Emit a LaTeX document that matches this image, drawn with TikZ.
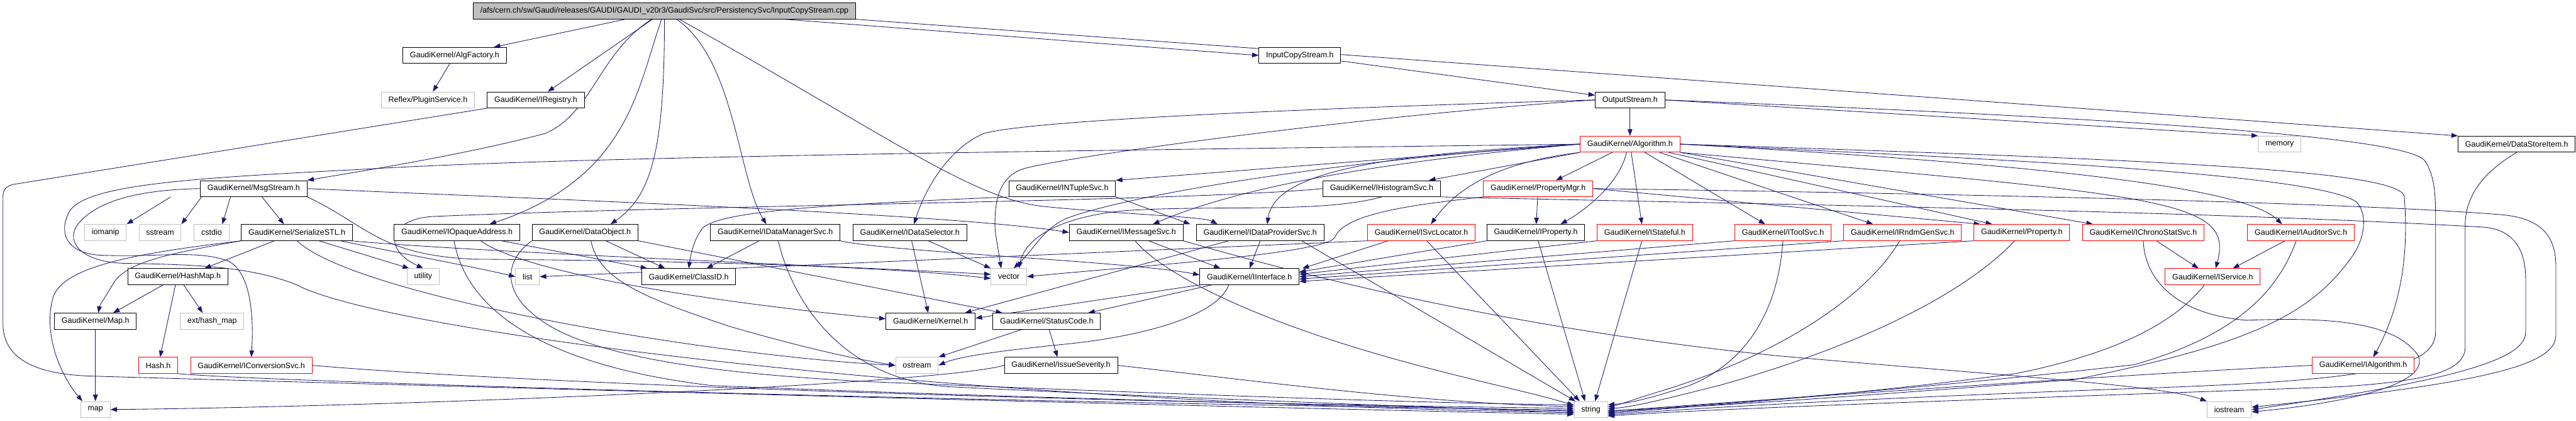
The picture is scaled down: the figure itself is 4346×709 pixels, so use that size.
\documentclass[tikz,border=0pt]{standalone}
\usepackage{fontspec}
\setmainfont{Liberation Sans}
\usetikzlibrary{arrows.meta}
\definecolor{edgec}{HTML}{191970}
\definecolor{graybd}{HTML}{BFBFBF}
\newcommand{\gvfont}{\fontsize{13.24}{15}\selectfont}
\pgfdeclarelayer{bg}
\pgfsetlayers{bg,main}
\tikzset{
  nbase/.style={rectangle, minimum height=27pt, inner xsep=12pt, inner ysep=0pt, line width=1pt, font=\gvfont, text=black, fill=white},
  nb/.style={nbase, draw=black},
  ng/.style={nbase, draw=graybd},
  nr/.style={nbase, draw=red},
  ntop/.style={nbase, draw=black, fill=graybd},
  edg/.style={draw=edgec, line width=0.9pt, -{Triangle[length=11pt,width=8pt]}},
}
\begin{document}
\begin{tikzpicture}[x=1pt,y=-1pt]
\useasboundingbox (0,0) rectangle (4346,709);
% row 0-4
\node[ntop] (top) at (1121,18.5) {/afs/cern.ch/sw/Gaudi/releases/GAUDI/GAUDI\_v20r3/GaudiSvc/src/PersistencySvc/InputCopyStream.cpp};
\node[nb] (algf) at (767,93.5) {GaudiKernel/AlgFactory.h};
\node[nb] (icsh) at (2193,93.5) {InputCopyStream.h};
\node[ng] (reflex) at (722,168.5) {Reflex/PluginService.h};
\node[nb] (ireg) at (904,168.5) {GaudiKernel/IRegistry.h};
\node[nb] (outs) at (2750,168.5) {OutputStream.h};
\node[nr] (alg) at (2750,243) {GaudiKernel/Algorithm.h};
\node[ng] (memory) at (3846,243) {memory};
\node[nb] (dsi) at (4246,243) {GaudiKernel/DataStoreItem.h};
\node[nb] (msg) at (428,318) {GaudiKernel/MsgStream.h};
\node[nb] (ntup) at (1792,318) {GaudiKernel/INTupleSvc.h};
\node[nb] (ihist) at (2331,318) {GaudiKernel/IHistogramSvc.h};
\node[nr] (pmgr) at (2595,318) {GaudiKernel/PropertyMgr.h};
% row 5
\node[ng] (iomanip) at (178,392) {iomanip};
\node[ng] (sstream) at (270,392) {sstream};
\node[ng] (cstdio) at (357,392) {cstdio};
\node[nb] (ser) at (501,392) {GaudiKernel/SerializeSTL.h};
\node[nb] (iopa) at (771,392) {GaudiKernel/IOpaqueAddress.h};
\node[nb] (dobj) at (987,392) {GaudiKernel/DataObject.h};
\node[nb] (idms) at (1308,392) {GaudiKernel/IDataManagerSvc.h};
\node[nb] (idsel) at (1535,392) {GaudiKernel/IDataSelector.h};
\node[nb] (imsg) at (1900,392) {GaudiKernel/IMessageSvc.h};
\node[nb] (idps) at (2126,392) {GaudiKernel/IDataProviderSvc.h};
\node[nr] (isvcl) at (2398,392) {GaudiKernel/ISvcLocator.h};
\node[nb] (iprop) at (2591,392) {GaudiKernel/IProperty.h};
\node[nr] (istate) at (2775,392) {GaudiKernel/IStateful.h};
\node[nr] (itool) at (3008,392) {GaudiKernel/IToolSvc.h};
\node[nr] (irndm) at (3210,392) {GaudiKernel/IRndmGenSvc.h};
\node[nr] (prop) at (3411,392) {GaudiKernel/Property.h};
\node[nr] (ichrono) at (3616,392) {GaudiKernel/IChronoStatSvc.h};
\node[nr] (iaud) at (3882,392) {GaudiKernel/IAuditorSvc.h};
% row 6
\node[nb] (hashmap) at (300,466.5) {GaudiKernel/HashMap.h};
\node[ng] (utility) at (714,466.5) {utility};
\node[ng] (list) at (890,466.5) {list};
\node[nb] (classid) at (1162,466.5) {GaudiKernel/ClassID.h};
\node[ng] (vector) at (1702,466.5) {vector};
\node[nb] (iint) at (2108,466.5) {GaudiKernel/IInterface.h};
\node[nr] (isvc) at (3733,466.5) {GaudiKernel/IService.h};
% row 7
\node[nb] (mapH) at (161,541.5) {GaudiKernel/Map.h};
\node[ng] (exthm) at (358,541.5) {ext/hash\_map};
\node[nb] (kernel) at (1570,541.5) {GaudiKernel/Kernel.h};
\node[nb] (sc) at (1766,541.5) {GaudiKernel/StatusCode.h};
% row 8
\node[nr] (hash) at (267,616) {Hash.h};
\node[nr] (iconv) at (424,616) {GaudiKernel/IConversionSvc.h};
\node[ng] (ostream) at (1547,616) {ostream};
\node[nb] (issue) at (1790,616) {GaudiKernel/IssueSeverity.h};
\node[nr] (ialg) at (3987,616) {GaudiKernel/IAlgorithm.h};
% row 9
\node[ng] (map) at (161,690.5) {map};
\node[ng] (string) at (2684,690.5) {string};
\node[ng] (iostream) at (3761,690.5) {iostream};

\begin{pgfonlayer}{bg}
\fill[white] (0,0) rectangle (4346,709);
% top
\draw[edg] (top) -- (algf);
\draw[edg] (top) -- (ireg);
\draw[edg] (top) .. controls (1010,90) and (1000,190) .. (920,225) .. controls (780,262) and (600,290) .. (msg.north east);
\draw[edg] (top) .. controls (1075,150) and (1060,300) .. ([xshift=55pt]iopa.north);
\draw[edg] (top.south) .. controls (1121,250) and (1100,330) .. ([xshift=43pt]dobj.north);
\draw[edg] (top) .. controls (1240,100) and (1245,300) .. ([xshift=-15pt]idms.north);
\draw[edg] (top) .. controls (1500,230) and (1640,335) .. (1760,348) .. controls (1900,362) and (2030,365) .. ([xshift=-72pt]idps.north);
\draw[edg] ([xshift=-120pt]top.south east) -- (icsh.west);
\draw[edg] (top.south east) -- (dsi.north west);
\draw[edg] (algf) -- (reflex);
\draw[edg] (ireg.south west) -- (22,311) .. controls (10,314) and (5,320) .. (5,332) -- (5,545) .. controls (5,600) and (50,630) .. (150,634) .. controls (700,650) and (2000,685) .. ([yshift=-8pt]string.west);
\draw[edg] (icsh) -- (outs);
% OutputStream
\draw[edg] (outs) -- (alg);
\draw[edg] (outs.east) -- (memory.north west);
\draw[edg] (outs.west) .. controls (2300,180) and (1750,200) .. (1660,225) .. controls (1600,250) and (1560,320) .. ([xshift=7pt]idsel.north);
\draw[edg] (outs.west) .. controls (2300,195) and (1790,265) .. (1725,285) .. controls (1690,298) and (1676,330) .. (1679,390) -- ([xshift=-13pt]vector.north);
\draw[edg] (outs.east) .. controls (3600,200) and (4050,230) .. (4090,270) .. controls (4105,290) and (4109,320) .. (4109,360) -- (4109,560) .. controls (4109,620) and (4000,642) .. (3600,655) .. controls (3200,670) and (2900,685) .. ([yshift=-9pt]string.east);
% Algorithm
\draw[edg] (alg.west) -- (ntup.north east);
\draw[edg] (alg.south west) -- ([xshift=-20pt]ihist.north east);
\draw[edg] ([xshift=-30pt]alg.south) -- ([xshift=30pt]pmgr.north);
\draw[edg] (alg.south west) .. controls (2560,270) and (2470,300) .. ([xshift=16pt]isvcl.north);
\draw[edg] ([xshift=-6pt]alg.south) .. controls (2735,300) and (2690,345) .. ([xshift=42pt]iprop.north);
\draw[edg] ([xshift=2pt]alg.south) -- ([xshift=-5pt]istate.north);
\draw[edg] ([xshift=25pt]alg.south) -- ([xshift=-30pt]itool.north);
\draw[edg] ([xshift=50pt]alg.south) -- ([xshift=-50pt]irndm.north);
\draw[edg] ([xshift=65pt]alg.south) -- ([xshift=-50pt]prop.north);
\draw[edg] (alg.south east) -- ([xshift=-85pt]ichrono.north);
\draw[edg] (alg.east) .. controls (3500,280) and (3790,320) .. ([xshift=-32pt]iaud.north);
\draw[edg] (alg.south east) .. controls (3650,330) and (3770,335) .. ([xshift=5pt]isvc.north);
\draw[edg] (alg.east) .. controls (3600,268) and (4040,285) .. (4056,330) .. controls (4062,400) and (4060,500) .. ([xshift=17pt]ialg.north);
\draw[edg] (alg.west) .. controls (2300,275) and (2080,320) .. ([xshift=45pt]imsg.north);
\draw[edg] (alg.west) .. controls (2330,260) and (2150,290) .. ([xshift=12pt]idps.north);
\draw[edg] (alg.west) .. controls (2250,270) and (1900,330) .. (1800,368) .. controls (1760,385) and (1745,420) .. ([xshift=8pt]vector.north);
\draw[edg] (alg.west) .. controls (2000,252) and (1000,262) .. (620,285) .. controls (330,300) and (150,310) .. (118,355) .. controls (98,390) and (110,425) .. (165,430) .. controls (260,435) and (330,420) .. (385,440) .. controls (425,460) and (428,540) .. (iconv.north);
\draw[edg] (alg.east) .. controls (3300,265) and (3900,290) .. (3975,340) .. controls (3995,360) and (3990,400) .. (3970,430) .. controls (3900,530) and (3800,580) .. (3500,640) .. controls (3100,670) and (2900,685) .. ([yshift=-2pt]string.east);
% PropertyMgr
\draw[edg] (pmgr) -- (iprop);
\draw[edg] (pmgr.east) -- ([xshift=-70pt]prop.north);
\draw[edg] (pmgr.south west) .. controls (2420,342) and (2270,355) .. (2252,400) .. controls (2240,428) and (1900,450) .. (vector.east);
\draw[edg] (pmgr.east) .. controls (3200,325) and (3950,340) .. (4220,362) .. controls (4290,368) and (4312,400) .. (4312,450) -- (4312,565) .. controls (4312,615) and (4200,645) .. ([yshift=4pt]iostream.east);
% IHistogramSvc
\draw[edg] (ihist.west) .. controls (2000,340) and (1200,345) .. (730,365) .. controls (655,370) and (645,420) .. (utility.north);
\draw[edg] (ihist.south) .. controls (2230,360) and (2050,345) .. (1900,355) .. controls (1790,365) and (1730,400) .. ([xshift=17pt]vector.north);
\draw[edg] (ihist.south east) .. controls (3000,345) and (3700,355) .. (4190,383) .. controls (4240,387) and (4261,420) .. (4261,470) -- (4261,560) .. controls (4261,605) and (4150,640) .. (iostream.east);
% INTupleSvc
\draw[edg] (ntup.south east) -- ([xshift=-118pt]idps.north);
\draw[edg] (ntup.south west) .. controls (1400,345) and (1215,355) .. (1185,385) .. controls (1170,405) and (1165,430) .. (classid.north);
% MsgStream
\draw[edg] ([xshift=-140pt]msg.south) -- (iomanip.north east);
\draw[edg] ([xshift=-88pt]msg.south) -- (sstream.north east);
\draw[edg] ([xshift=-39pt]msg.south) -- ([xshift=18pt]cstdio.north);
\draw[edg] ([xshift=14pt]msg.south) -- ([xshift=-22pt]ser.north);
\draw[edg] (msg.east) .. controls (900,335) and (1600,360) .. (imsg.west);
\draw[edg] (msg.south east) .. controls (620,380) and (640,430) .. (800,437) .. controls (1200,440) and (1500,450) .. ([yshift=-3pt]vector.west);
\draw[edg] (msg.west) .. controls (230,320) and (160,340) .. (130,380) .. controls (110,410) and (140,442) .. (210,444) .. controls (320,446) and (420,448) .. (500,480) .. controls (650,560) and (1600,680) .. ([yshift=-5pt]string.west);
% SerializeSTL
\draw[edg] ([xshift=-38pt]ser.south) -- ([xshift=45pt]hashmap.north);
\draw[edg] (ser.south west) .. controls (300,425) and (210,440) .. (190,480) .. controls (178,500) and (168,515) .. ([xshift=5pt]mapH.north);
\draw[edg] (ser.south west) .. controls (250,425) and (110,445) .. (90,500) .. controls (72,560) and (100,630) .. ([xshift=-22pt]map.north);
\draw[edg] ([xshift=37pt]ser.south) -- ([xshift=4pt]utility.north west);
\draw[edg] ([xshift=-21pt]ser.south east) .. controls (700,432) and (800,450) .. (list.west);
\draw[edg] ([xshift=-3pt]ser.south east) .. controls (800,425) and (1400,448) .. ([yshift=4pt]vector.west);
\draw[edg] (ser.south) .. controls (600,500) and (1200,600) .. (ostream.west);
% HashMap, Map, Hash, IConversionSvc
\draw[edg] ([xshift=-25pt]hashmap.south) -- ([xshift=30pt]mapH.north);
\draw[edg] ([xshift=-4pt]hashmap.south) -- ([xshift=3pt]hash.north);
\draw[edg] ([xshift=10pt]hashmap.south) -- ([xshift=-16pt]exthm.north);
\draw[edg] (mapH) -- (map);
\draw[edg] (hash.south east) .. controls (420,642) and (1500,675) .. ([yshift=-1pt]string.west);
\draw[edg] (iconv.east) .. controls (800,640) and (1600,675) .. ([yshift=2pt]string.west);
% IInterface, StatusCode, IssueSeverity
\draw[edg] (iint.south west) -- ([yshift=5pt]kernel.east);
\draw[edg] ([xshift=20pt]iint.south west) -- ([xshift=70pt]sc.north);
\draw[edg] ([xshift=-35pt]iint.south) .. controls (2050,540) and (1900,570) .. (1800,580) .. controls (1700,590) and (1620,600) .. (ostream.east);
\draw[edg] ([xshift=-42pt]sc.south) -- (ostream.north east);
\draw[edg] ([xshift=4pt]sc.south) -- ([xshift=-6pt]issue.north);
\draw[edg] (issue.west) .. controls (1580,648) and (700,685) .. (map.east);
\draw[edg] (issue.east) .. controls (2100,640) and (2400,680) .. ([yshift=5pt]string.west);
% IOpaqueAddress
\draw[edg] ([xshift=75pt]iopa.south) -- ([xshift=-70pt]classid.north);
\draw[edg] ([xshift=40pt]iopa.south) .. controls (900,470) and (1300,520) .. ([yshift=4pt]kernel.west);
\draw[edg] ([xshift=-5pt]iopa.south) .. controls (790,540) and (950,620) .. (1200,650) .. controls (1800,675) and (2400,685) .. ([yshift=-3pt]string.west);
% DataObject
\draw[edg] ([xshift=35pt]dobj.south) -- ([xshift=-40pt]classid.north);
\draw[edg] (dobj.south east) -- ([xshift=-75pt]sc.north);
\draw[edg] ([xshift=10pt]dobj.south) .. controls (1010,470) and (1080,500) .. (1230,550) .. controls (1350,585) and (1440,605) .. (ostream.west);
\draw[edg] (dobj.south west) .. controls (850,440) and (850,490) .. (900,530) .. controls (980,600) and (1200,632) .. (1500,645) .. controls (2000,665) and (2400,680) .. ([yshift=8pt]string.west);
% IDataManagerSvc
\draw[edg] ([xshift=-27pt]idms.south) -- ([xshift=30pt]classid.north);
\draw[edg] (idms.south east) .. controls (1500,425) and (1900,440) .. ([yshift=3pt]iint.west);
\draw[edg] ([xshift=5pt]idms.south) .. controls (1340,520) and (1430,640) .. (1600,652) .. controls (2000,672) and (2400,685) .. ([yshift=-6pt]string.west);
% IDataSelector
\draw[edg] ([xshift=31pt]idsel.south) -- (vector.north west);
\draw[edg] ([xshift=3pt]idsel.south) -- ([xshift=-4pt]kernel.north);
% IMessageSvc
\draw[edg] ([xshift=38pt]imsg.south) -- ([xshift=-49pt]iint.north);
\draw[edg] ([xshift=15pt]imsg.south) .. controls (1960,460) and (2100,530) .. (2300,590) .. controls (2450,635) and (2580,660) .. ([yshift=7pt]string.west);
\draw[edg] (imsg.south east) .. controls (2250,480) and (2600,560) .. (3000,600) .. controls (3400,635) and (3650,650) .. (iostream.north west);
% IDataProviderSvc
\draw[edg] (idps.south) -- (iint.north);
\draw[edg] ([xshift=-53pt]idps.south) -- ([xshift=-18pt]kernel.north east);
\draw[edg] ([xshift=70pt]idps.south) -- ([xshift=-26pt]string.north);
% ISvcLocator
\draw[edg] ([xshift=-56pt]isvcl.south) -- ([xshift=5pt]iint.north east);
\draw[edg] ([xshift=9pt]isvcl.south) -- ([xshift=-19pt]string.north);
\draw[edg] (isvcl.south west) -- (list.east);
% IProperty, IStateful, IToolSvc, IRndmGenSvc, Property
\draw[edg] (iprop.south west) -- ([yshift=8pt]iint.east);
\draw[edg] ([xshift=4pt]iprop.south) -- ([xshift=-10pt]string.north);
\draw[edg] (istate.south west) -- ([yshift=4pt]iint.east);
\draw[edg] ([xshift=-5pt]istate.south) -- ([xshift=7pt]string.north);
\draw[edg] (itool.south west) -- (iint.east);
\draw[edg] (itool.south) .. controls (3000,520) and (2950,610) .. (2850,650) .. controls (2790,670) and (2750,680) .. ([yshift=8pt]string.east);
\draw[edg] (irndm.south west) -- ([yshift=-4pt]iint.east);
\draw[edg] ([xshift=-5pt]irndm.south) .. controls (3150,500) and (3000,600) .. (2800,660) .. controls (2760,672) and (2740,680) .. ([yshift=4pt]string.east);
\draw[edg] (prop.south west) -- ([yshift=-8pt]iint.east);
\draw[edg] ([xshift=-12pt]prop.south) .. controls (3320,490) and (3150,580) .. (2900,650) .. controls (2800,675) and (2760,685) .. ([yshift=1pt]string.east);
% IChronoStatSvc, IAuditorSvc, IService, IAlgorithm
\draw[edg] ([xshift=22pt]ichrono.south) -- ([xshift=-24pt]isvc.north);
\draw[edg] (ichrono.south) .. controls (3618,470) and (3670,530) .. (3790,540) .. controls (3920,535) and (4040,540) .. (4080,600) .. controls (4100,650) and (3950,680) .. ([yshift=-4pt]iostream.east);
\draw[edg] ([xshift=-27pt]iaud.south) -- ([xshift=34pt]isvc.north);
\draw[edg] ([xshift=-8pt]iaud.south) .. controls (3840,500) and (3760,570) .. (3600,615) .. controls (3200,660) and (2900,680) .. ([yshift=-5pt]string.east);
\draw[edg] ([xshift=-14pt]isvc.south) .. controls (3680,530) and (3600,590) .. (3400,630) .. controls (3100,670) and (2850,685) .. ([yshift=-7pt]string.east);
\draw[edg] (ialg.west) .. controls (3600,630) and (3000,672) .. ([yshift=-3pt]string.east);
% DataStoreItem
\draw[edg] (dsi.south) .. controls (4190,290) and (4159,330) .. (4159,380) -- (4159,585) .. controls (4159,625) and (4100,642) .. (3950,652) .. controls (3400,672) and (2900,688) .. ([yshift=-11pt]string.east);
\end{pgfonlayer}
\end{tikzpicture}
\end{document}
